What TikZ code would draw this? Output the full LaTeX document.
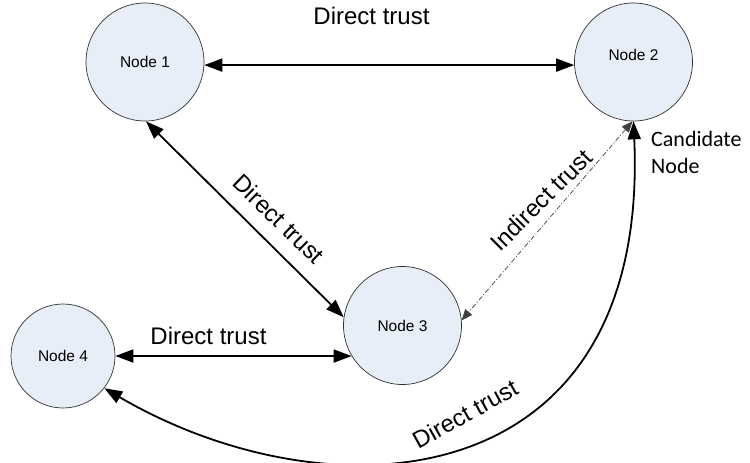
\documentclass[tikz,border=0pt]{standalone}
\usepackage{fontspec}
\setmainfont{Liberation Sans}
\newfontfamily\candfont{Carlito}
\usetikzlibrary{arrows.meta}
\definecolor{nodefill}{HTML}{E8EEF7}
\definecolor{rim}{HTML}{303030}

\begin{document}
\begin{tikzpicture}[x=1pt, y=-1pt,
  peer/.style={circle, draw=rim, line width=0.7pt, fill=nodefill,
    inner sep=0pt, minimum size=118pt,
    font=\fontsize{15.5}{18}\selectfont},
  trust/.style={line width=1.8pt, {Triangle[length=18pt, width=13pt]}-{Triangle[length=18pt, width=13pt]}},
  indirect/.style={line width=0.7pt, draw=black!75,
    dash pattern=on 5pt off 2pt on 1pt off 2pt,
    {Triangle[length=11pt, width=9pt]}-{Triangle[length=11pt, width=9pt]}},
  tlabel/.style={font=\fontsize{24}{28}\selectfont, inner sep=0pt}
]
\useasboundingbox (0,0) rectangle (750,463);

% peers
\node[peer] (n1) at (145,62) {Node 1};
\node[peer, label={[font=\fontsize{15.5}{18}\selectfont, yshift=7pt]center:Node 2}] (n2) at (633.5,62) {};
\node[peer] (n3) at (402.5,325.5) {Node 3};
\node[peer, minimum size=104pt] (n4) at (63,356) {Node 4};

% trust relations
\draw[trust] (n1.-3) -- (n2.183);
\draw[trust] (n1.-89) -- (n3.172);
\draw[trust] (n4.east) -- (n3.211);
\draw[indirect] (n2.-91) -- (n3.5);
\draw[trust] (n2.-90) .. controls (650,500) and (330,520) .. (n4.-38);

% labels
\node[tlabel, anchor=base] (l12) at (371.5,24) {Direct trust};
\node[tlabel, rotate=-44] (l13) at (279,219) {Direct trust};
\node[tlabel, anchor=base] (l34) at (208.5,344) {Direct trust};
\node[tlabel, rotate=45] (l23) at (541,200) {Indirect trust};
\node[tlabel, rotate=29] (l24) at (465,414) {Direct trust};
% base anchor of a two-line node sits on the last line
\node[anchor=base west, align=left, inner sep=0pt,
  font=\candfont\fontsize{22}{27}\selectfont] (cand) at (651,173) {Candidate\\Node};
\end{tikzpicture}
\end{document}
